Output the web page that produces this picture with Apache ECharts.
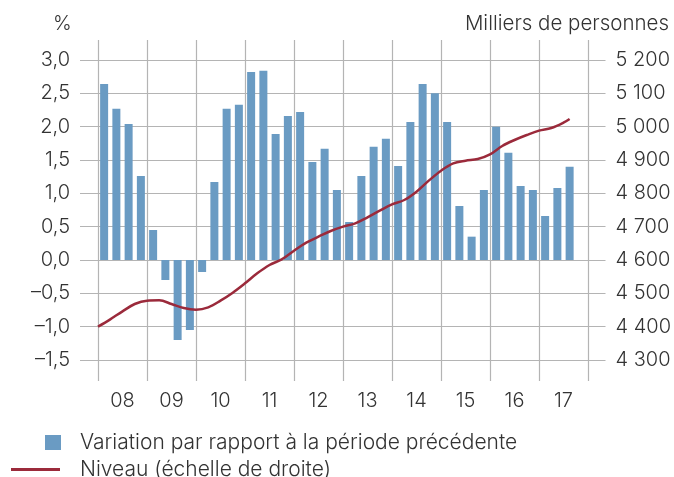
<!DOCTYPE html>
<html>
<head>
<meta charset="utf-8">
<script src="https://cdn.jsdelivr.net/npm/echarts@6/dist/echarts.min.js"></script>
<style>
  html, body { margin: 0; padding: 0; background: #fff; }
  #main { width: 674px; height: 477px; }
</style>
</head>
<body>
<div id="main"></div>
<script>
// categories
var years = ['08', '09', '10', '11', '12', '13', '14', '15', '16', '17']
var quarters = []
years.forEach(function (y) {
  for (var q = 1; q <= 4; q++) quarters.push(y + 'Q' + q)
})

// variation par rapport au trimestre précédent (%)
var variation = [
  2.64, 2.27, 2.04, 1.26,
  0.45, -0.30, -1.20, -1.05,
  -0.18, 1.17, 2.27, 2.33,
  2.82, 2.84, 1.89, 2.16,
  2.22, 1.47, 1.67, 1.05,
  0.57, 1.26, 1.70, 1.82,
  1.41, 2.07, 2.64, 2.50,
  2.07, 0.81, 0.35, 1.05,
  2.00, 1.61, 1.11, 1.05,
  0.66, 1.08, 1.40
]

// niveau (milliers de personnes), position en trimestres depuis début 2008
var niveauX = [
  0, 1, 2, 3, 4, 5, 6, 7, 8, 9,
  10, 11, 12, 13, 14, 15, 16, 17, 18, 19,
  20, 21, 22, 23, 24, 25, 26, 27, 28, 29,
  30, 31, 32, 33, 34, 35, 36, 37, 38, 38.5
]
var niveau = [
  4400, 4422, 4446, 4468, 4478, 4479, 4468, 4456, 4451, 4458,
  4478, 4502, 4530, 4560, 4585, 4602, 4628, 4652, 4670, 4687,
  4700, 4710, 4728, 4748, 4767, 4780, 4805, 4838, 4868, 4890,
  4898, 4903, 4917, 4942, 4960, 4975, 4988, 4996, 5012, 5023
]

// tick labels
var leftTicks = { min: -1.5, max: 3, interval: 0.5 }
var rightTicks = { min: 4300, max: 5200, interval: 100 }

var font = 'Inter'
var fw = 300
var txt = '#333333'
var gridColor = '#b4b4b4'

function frNum(v, dec) {
  return v.toFixed(dec).replace('.', ',').replace('-', '\u2013')
}
function thousands(v) {
  var s = String(v)
  return s.length > 3 ? s.slice(0, s.length - 3) + ' ' + s.slice(-3) : s
}

var chart = echarts.init(document.getElementById('main'))
chart.setOption({
  animation: false,
  textStyle: { fontFamily: font, fontWeight: fw, color: txt },
  grid: [
    // horizontal grid lines + y labels
    { left: 80, width: 528, top: 60, height: 300 },
    // data
    { left: 98, width: 490, top: 60, height: 300 },
    // vertical year lines + year labels
    { left: 98, width: 490, top: 40, height: 341 }
  ],
  xAxis: [
    { gridIndex: 0, type: 'value', min: 0, max: 1, show: false },
    { gridIndex: 1, type: 'category', data: quarters, show: false },
    { gridIndex: 1, type: 'value', min: 0, max: 40, show: false },
    {
      gridIndex: 2, type: 'category', data: years, position: 'bottom',
      axisLine: { show: false }, axisTick: { show: false },
      axisLabel: { fontSize: 20, fontFamily: font, fontWeight: fw, color: txt, margin: 10 },
      splitLine: { show: true, interval: 0, lineStyle: { color: gridColor, width: 1.2 } }
    }
  ],
  yAxis: [
    {
      gridIndex: 0, type: 'value', position: 'left',
      min: leftTicks.min, max: leftTicks.max, interval: leftTicks.interval,
      axisLine: { show: false }, axisTick: { show: false },
      axisLabel: {
        fontSize: 20, fontFamily: font, fontWeight: fw, color: txt, margin: 10,
        formatter: function (v) { return frNum(v, 1) }
      },
      splitLine: { show: true, lineStyle: { color: gridColor, width: 1.2 } }
    },
    {
      gridIndex: 0, type: 'value', position: 'right',
      min: rightTicks.min, max: rightTicks.max, interval: rightTicks.interval,
      axisLine: { show: false }, axisTick: { show: false },
      axisLabel: {
        fontSize: 20, fontFamily: font, fontWeight: fw, color: txt, margin: 10,
        formatter: function (v) { return thousands(v) }
      },
      splitLine: { show: false }
    },
    { gridIndex: 1, type: 'value', min: leftTicks.min, max: leftTicks.max, show: false },
    { gridIndex: 1, type: 'value', min: rightTicks.min, max: rightTicks.max, show: false },
    { gridIndex: 2, type: 'value', min: 0, max: 1, show: false }
  ],
  legend: [
    {
      data: ['Variation par rapport à la période précédente'],
      left: 45, top: 432, padding: 0, icon: 'rect', itemWidth: 16, itemHeight: 15,
      textStyle: { fontSize: 21, fontFamily: font, fontWeight: fw, color: txt, padding: [0, 0, 0, 14] }
    },
    {
      data: ['Niveau (échelle de droite)'],
      left: 11, top: 459, padding: 0, icon: 'rect', itemWidth: 49, itemHeight: 3,
      textStyle: { fontSize: 21, fontFamily: font, fontWeight: fw, color: txt, padding: [0, 0, 0, 15] }
    }
  ],
  graphic: [
    {
      type: 'text', left: 53, top: 14,
      style: { text: '%', fontSize: 20, fontFamily: font, fontWeight: fw, fill: txt }
    },
    {
      type: 'text', right: 5, top: 13,
      style: { text: 'Milliers de personnes', fontSize: 20.5, fontFamily: font, fontWeight: fw, fill: txt }
    }
  ],
  series: [
    {
      name: 'Variation par rapport à la période précédente',
      type: 'bar', xAxisIndex: 1, yAxisIndex: 2,
      data: variation, barWidth: 8,
      itemStyle: { color: '#6a9bc3' }
    },
    {
      name: 'Niveau (échelle de droite)',
      type: 'line', xAxisIndex: 2, yAxisIndex: 3,
      data: niveauX.map(function (x, i) { return [x, niveau[i]] }),
      smooth: 0.35, symbol: 'none', z: 5,
      lineStyle: { color: '#9b2a3b', width: 2.5 },
      itemStyle: { color: '#9b2a3b' }
    }
  ]
})
</script>
</body>
</html>
